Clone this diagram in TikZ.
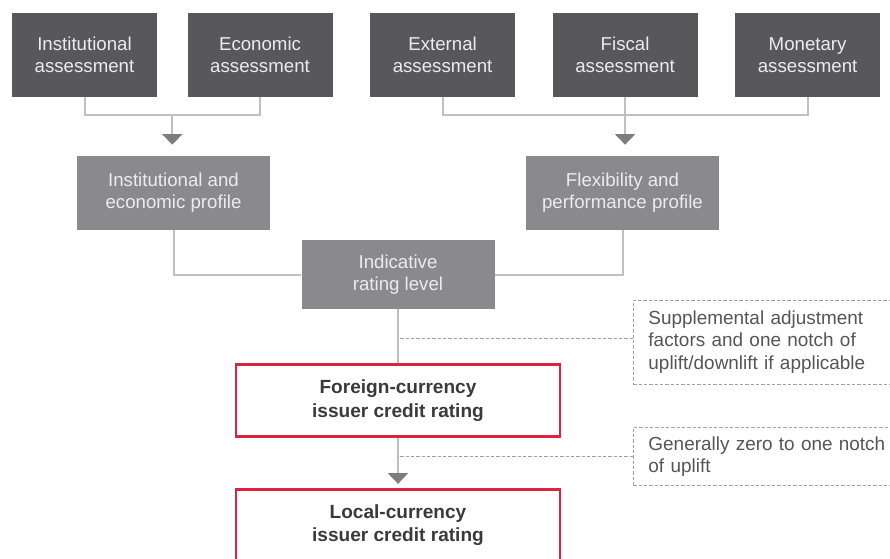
\documentclass[tikz,border=0pt]{standalone}
\usepackage{fontspec}
\setmainfont{Liberation Sans}
\usetikzlibrary{positioning,arrows.meta,calc}

\definecolor{darkbox}{RGB}{88,88,90}
\definecolor{midbox}{RGB}{138,138,140}
\definecolor{boxtext}{RGB}{236,236,236}
\definecolor{linegrey}{RGB}{192,192,192}
\definecolor{arrowgrey}{RGB}{125,125,127}
\definecolor{ratingred}{RGB}{218,36,66}
\definecolor{ratingtext}{RGB}{58,58,60}
\definecolor{notegrey}{RGB}{160,160,160}
\definecolor{notetext}{RGB}{85,85,87}

\begin{document}
\begin{tikzpicture}[
    x=0.75pt, y=-0.75pt,
    node distance=27.75pt and 27.75pt,
    assess/.style={rectangle, fill=darkbox, text=boxtext, minimum width=108.75pt, minimum height=63pt, align=center, font=\fontsize{14}{16.5}\selectfont},
    profile/.style={rectangle, fill=midbox, text=boxtext, minimum width=144.75pt, minimum height=55.5pt, align=center, font=\fontsize{14}{16.5}\selectfont},
    rating/.style={rectangle, draw=ratingred, line width=2pt, minimum width=243pt, minimum height=54pt, align=center, text=ratingtext, font=\bfseries\fontsize{14.3}{17.5}\selectfont},
    note/.style={rectangle, draw=notegrey, line width=0.7pt, dash pattern=on 2.5pt off 1.5pt, text width=195pt, inner xsep=11.25pt, align=left, text=notetext, font=\fontsize{14.2}{17}\selectfont},
    link/.style={draw=linegrey, line width=1.5pt},
    arrow/.style={link, -{Triangle[length=8pt, width=15pt, color=arrowgrey]}},
    leader/.style={draw=notegrey, line width=0.7pt, dash pattern=on 2.5pt off 1.5pt}
]
\useasboundingbox (0,0) rectangle (890,558);

% Assessments
\node[assess] (inst) at (84.5,55) {Institutional\\assessment};
\node[assess, right=22.5pt of inst] (econ) {Economic\\assessment};
\node[assess, right=of econ] (ext) {External\\assessment};
\node[assess, right=of ext] (fisc) {Fiscal\\assessment};
\node[assess, right=of fisc] (mon) {Monetary\\assessment};

% Profiles and indicative level
\node[profile] (iep) at (173.5,193) {Institutional and\\economic profile};
\node[profile] (fpp) at (622.5,193) {Flexibility and\\performance profile};
\node[profile, minimum height=51.75pt] (ind) at (398,274.5) {Indicative\\rating level};

% Issuer credit ratings
\node[rating] (fcr) at (398,400.5) {Foreign-currency\\issuer credit rating};
\node[rating, below=37.5pt of fcr] (lcr) {Local-currency\\issuer credit rating};

% Notes
\node[note, anchor=west, minimum height=63pt] (adj) at (633,342) {Supplemental adjustment\\factors and one notch of\\uplift/downlift if applicable};
\node[note, anchor=west, minimum height=44pt] (notch) at (633,456.5) {Generally zero to one notch\\of uplift};

% Connectors
\draw[link] (inst.south) -- ++(0,18) -| (econ.south);
\coordinate (joinL) at ($(inst.south)!0.5!(econ.south)+(0,18)$);
\draw[arrow, shorten >=8.25pt] (joinL) -- (joinL |- iep.north);
\draw[link] (ext.south) -- ++(0,18) -| (mon.south);
\draw[arrow, shorten >=8.25pt] (fisc.south) -- (fisc.south |- fpp.north);

\draw[link] (iep.south) |- (ind.west);
\draw[link] (fpp.south) |- (ind.east);
\draw[link] (ind.south) -- (fcr.north);
\draw[arrow, shorten >=3pt] (fcr.south) -- (lcr.north);

\coordinate (adjleft) at ($(adj.west)+(0,-4)$);
\draw[leader] (adjleft) -- (adjleft -| fcr.north);
\draw[leader] (notch.west) -- (notch.west -| fcr.north);

\end{tikzpicture}
\end{document}
